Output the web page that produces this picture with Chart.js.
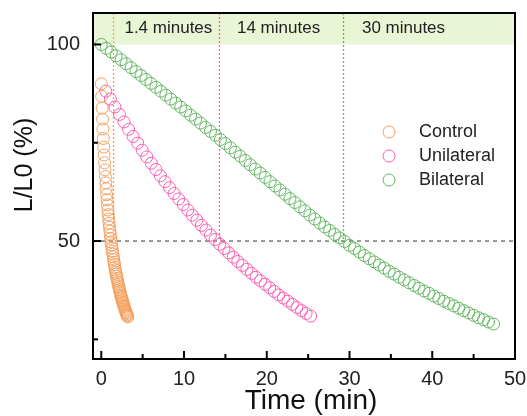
<!DOCTYPE html>
<html lang="en">
<head>
<meta charset="UTF-8">
<title>L/L0 vs Time</title>
<script src="https://cdn.jsdelivr.net/npm/chart.js"></script>
<style>
  html, body { margin: 0; padding: 0; background: #fff; }
  #wrap { width: 527px; height: 416px; }
</style>
</head>
<body>
<div id="wrap"><canvas id="chart"></canvas></div>
<script>
  const seriesNames = ['Control', 'Unilateral', 'Bilateral'];
  const seriesColors = ['rgb(244,160,96)', 'rgb(255,92,178)', 'rgb(98,182,98)'];

  const controlTime = [0, 0.05, 0.1, 0.15, 0.2, 0.25, 0.3, 0.35, 0.4, 0.45,
    0.5, 0.55, 0.6, 0.65, 0.7, 0.75, 0.8, 0.85, 0.9, 0.95,
    1.0, 1.05, 1.1, 1.15, 1.2, 1.25, 1.3, 1.35, 1.4, 1.45,
    1.5, 1.55, 1.6, 1.65, 1.7, 1.75, 1.8, 1.85, 1.9, 1.95,
    2.0, 2.05, 2.1, 2.15, 2.2, 2.25, 2.3, 2.35, 2.4, 2.45,
    2.5, 2.55, 2.6, 2.65, 2.7, 2.75, 2.8, 2.85, 2.9, 2.95,
    3.0, 3.05, 3.1, 3.15, 3.2];
  const controlValue = [90.0, 86.8, 83.8, 81.0, 78.5, 76.1, 73.9, 71.9, 69.9, 68.1,
    66.4, 64.8, 63.3, 61.8, 60.5, 59.2, 57.9, 56.7, 55.6, 54.5,
    53.5, 52.5, 51.6, 50.7, 49.8, 49.0, 48.2, 47.4, 46.7, 46.0,
    45.3, 44.6, 44.0, 43.3, 42.7, 42.1, 41.6, 41.0, 40.5, 40.0,
    39.5, 39.0, 38.5, 38.1, 37.6, 37.2, 36.8, 36.3, 35.9, 35.6,
    35.2, 34.8, 34.4, 34.1, 33.7, 33.4, 33.1, 32.7, 32.4, 32.1,
    31.8, 31.5, 31.2, 31.0, 30.7];

  const uniTime = [0.55, 1.1, 1.65, 2.2, 2.75, 3.3, 3.85, 4.4, 4.95, 5.5,
    6.05, 6.6, 7.15, 7.7, 8.25, 8.8, 9.35, 9.9, 10.45, 11,
    11.55, 12.1, 12.65, 13.2, 13.75, 14.3, 14.85, 15.4, 15.95, 16.5,
    17.05, 17.6, 18.15, 18.7, 19.25, 19.8, 20.35, 20.9, 21.45, 22,
    22.55, 23.1, 23.65, 24.2, 24.75, 25.3];
  const uniValue = [88.1, 86.1, 84.1, 82.2, 80.3, 78.4, 76.6, 74.9, 73.1, 71.4,
    69.8, 68.2, 66.6, 65.1, 63.6, 62.1, 60.7, 59.3, 57.9, 56.6,
    55.3, 54.0, 52.8, 51.5, 50.4, 49.2, 48.1, 47.0, 45.9, 44.8,
    43.8, 42.8, 41.8, 40.8, 39.9, 39.0, 38.1, 37.2, 36.3, 35.5,
    34.7, 33.9, 33.1, 32.3, 31.6, 30.9];

  const biTime = [0, 0.6, 1.2, 1.8, 2.4, 3.0, 3.6, 4.2, 4.8, 5.4,
    6.0, 6.6, 7.2, 7.8, 8.4, 9.0, 9.6, 10.2, 10.8, 11.4,
    12.0, 12.6, 13.2, 13.8, 14.4, 15.0, 15.6, 16.2, 16.8, 17.4,
    18.0, 18.6, 19.2, 19.8, 20.4, 21.0, 21.6, 22.2, 22.8, 23.4,
    24.0, 24.6, 25.2, 25.8, 26.4, 27.0, 27.6, 28.2, 28.8, 29.4,
    30.0, 30.6, 31.2, 31.8, 32.4, 33.0, 33.6, 34.2, 34.8, 35.4,
    36.0, 36.6, 37.2, 37.8, 38.4, 39.0, 39.6, 40.2, 40.8, 41.4,
    42.0, 42.6, 43.2, 43.8, 44.4, 45.0, 45.6, 46.2, 46.8, 47.4];
  const biValue = [100, 99.0, 98.1, 97.1, 96.1, 95.1, 94.1, 93.1, 92.1, 91.1,
    90.1, 89.1, 88.1, 87.1, 86.1, 85.1, 84.1, 83.1, 82.0, 81.0,
    80.0, 78.9, 77.9, 76.9, 75.8, 74.8, 73.7, 72.6, 71.6, 70.5,
    69.4, 68.3, 67.3, 66.2, 65.1, 64.0, 63.0, 61.9, 60.8, 59.8,
    58.7, 57.7, 56.6, 55.6, 54.6, 53.6, 52.7, 51.7, 50.8, 49.9,
    48.9, 48.1, 47.2, 46.3, 45.5, 44.7, 43.9, 43.1, 42.3, 41.6,
    40.8, 40.1, 39.4, 38.7, 38.0, 37.3, 36.7, 36.0, 35.4, 34.7,
    34.1, 33.5, 32.9, 32.3, 31.7, 31.1, 30.5, 30.0, 29.4, 28.9];

  // half-life markers and the band labels above them
  const halfTimes = [1.4, 14.2, 29.2];
  const halfLabels = ['1.4 minutes', '14 minutes', '30 minutes'];
  const halfLabelAt = [2.8, 16.4, 31.5];
  const halfLevel = 50;
  const bandFrom = 100;

  const xTicks = [0, 5, 10, 15, 20, 25, 30, 35, 40, 45, 50];
  const yTicks = [25, 50, 75, 100];

  const FONT = '"Liberation Sans", Arial, sans-serif';

  function pairs(xs, ys) {
    return xs.map((x, i) => ({ x: x, y: ys[i] }));
  }

  function seg(ctx, x1, y1, x2, y2) {
    ctx.beginPath();
    ctx.moveTo(x1, y1);
    ctx.lineTo(x2, y2);
    ctx.stroke();
  }

  const decor = {
    id: 'decor',
    beforeDatasetsDraw(chart) {
      const { ctx, chartArea: a, scales: { x, y } } = chart;
      ctx.save();
      ctx.fillStyle = '#e8f6d6';
      const yb = y.getPixelForValue(bandFrom);
      ctx.fillRect(a.left, a.top, a.right - a.left, yb - a.top);

      const yh = y.getPixelForValue(halfLevel);
      ctx.strokeStyle = '#555';
      ctx.lineWidth = 1.2;
      ctx.setLineDash([4, 4]);
      seg(ctx, a.left, yh, a.right, yh);

      ctx.lineWidth = 1.3;
      ctx.setLineDash([2, 2]);
      halfTimes.forEach((t, i) => {
        ctx.strokeStyle = seriesColors[i];
        const px = Math.round(x.getPixelForValue(t)) + 0.5;
        seg(ctx, px, a.top, px, yh);
      });

      ctx.setLineDash([]);
      ctx.fillStyle = '#222';
      ctx.font = '17px ' + FONT;
      ctx.textAlign = 'left';
      ctx.textBaseline = 'middle';
      const ym = y.getPixelForValue((bandFrom + y.max) / 2);
      halfLabels.forEach((s, i) => ctx.fillText(s, x.getPixelForValue(halfLabelAt[i]), ym));
      ctx.restore();
    },
    afterDraw(chart) {
      const { ctx, chartArea: a, scales: { x, y } } = chart;
      ctx.save();
      ctx.strokeStyle = '#000';
      ctx.lineWidth = 2;
      ctx.strokeRect(a.left, a.top, a.right - a.left, a.bottom - a.top);

      // inward ticks, long on labelled values
      xTicks.forEach(v => {
        const px = x.getPixelForValue(v);
        seg(ctx, px, a.bottom, px, a.bottom - (v % 10 === 0 ? 8 : 5));
      });
      yTicks.forEach(v => {
        const py = y.getPixelForValue(v);
        seg(ctx, a.left, py, a.left + (v % 50 === 0 ? 8 : 5), py);
      });

      // axis titles
      ctx.fillStyle = '#111';
      ctx.textAlign = 'center';
      ctx.textBaseline = 'middle';
      ctx.font = '28px ' + FONT;
      ctx.fillText('Time (min)', (a.left + a.right) / 2 + 7, 401);
      ctx.translate(25, 165);
      ctx.rotate(-Math.PI / 2);
      ctx.font = '25px ' + FONT;
      ctx.fillText('L/L0 (%)', 0, 0);
      ctx.restore();

      // legend
      ctx.save();
      ctx.font = '18px ' + FONT;
      ctx.textAlign = 'left';
      ctx.textBaseline = 'middle';
      chart.data.datasets.forEach((ds, i) => {
        const ly = 132 + i * 24;
        ctx.strokeStyle = ds.borderColor;
        ctx.lineWidth = 1;
        ctx.beginPath();
        ctx.arc(389, ly, 6, 0, Math.PI * 2);
        ctx.stroke();
        ctx.fillStyle = '#222';
        ctx.fillText(ds.label, 419, ly);
      });
      ctx.restore();
    }
  };

  const series = [pairs(controlTime, controlValue), pairs(uniTime, uniValue), pairs(biTime, biValue)];

  new Chart(document.getElementById('chart'), {
    type: 'scatter',
    data: {
      datasets: series.map((d, i) => ({
        label: seriesNames[i],
        data: d,
        borderColor: seriesColors[i],
        backgroundColor: 'rgba(0,0,0,0)',
        borderWidth: 1,
        pointRadius: 6,
        pointHoverRadius: 6,
        showLine: false
      }))
    },
    options: {
      responsive: true,
      maintainAspectRatio: false,
      animation: false,
      layout: { padding: { top: 13, right: 12, left: 0, bottom: 0 } },
      plugins: { legend: { display: false }, tooltip: { enabled: false } },
      scales: {
        x: {
          type: 'linear', min: -1, max: 50,
          grid: { display: false, drawTicks: false },
          border: { display: false },
          afterBuildTicks: s => { s.ticks = xTicks.map(v => ({ value: v })); },
          afterFit: s => { s.height = 57; s.paddingLeft = 0; s.paddingRight = 0; },
          ticks: {
            autoSkip: false, maxRotation: 0, padding: 8, color: '#222',
            font: { size: 20, family: FONT },
            callback: v => (v % 10 === 0 ? v : '')
          }
        },
        y: {
          min: 20, max: 108,
          grid: { display: false, drawTicks: false },
          border: { display: false },
          afterBuildTicks: s => { s.ticks = yTicks.map(v => ({ value: v })); },
          afterFit: s => { s.width = 93; s.paddingTop = 0; s.paddingBottom = 0; },
          ticks: {
            autoSkip: false, padding: 13, color: '#222',
            font: { size: 20, family: FONT },
            callback: v => (v % 50 === 0 ? v : '')
          }
        }
      }
    },
    plugins: [decor]
  });
</script>
</body>
</html>
